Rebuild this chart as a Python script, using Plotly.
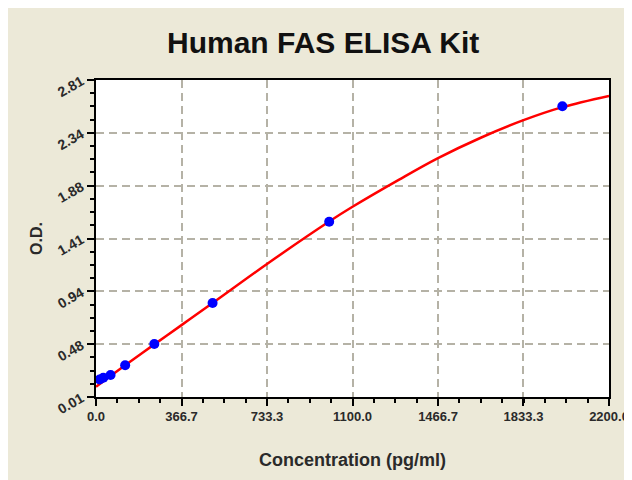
import plotly.graph_objects as go

# Standard points
std_conc = [15.6, 31.25, 62.5, 125, 250, 500, 1000, 2000]
std_od = [0.165, 0.18, 0.205, 0.29, 0.478, 0.84, 1.558, 2.578]

# Fitted curve
curve_conc = [0, 62.5, 125, 250, 366.7, 500, 733.3, 1000, 1100, 1300, 1466.7, 1650, 1833.3, 2000, 2200]
curve_od = [0.10, 0.195, 0.29, 0.475, 0.645, 0.84, 1.185, 1.56, 1.69, 1.93, 2.12, 2.30, 2.455, 2.57, 2.67]

x_ticks = [0.0, 366.7, 733.3, 1100.0, 1466.7, 1833.3, 2200.0]
x_labels = ["0.0", "366.7", "733.3", "1100.0", "1466.7", "1833.3", "2200.0"]
y_ticks = [0.01, 0.4767, 0.9433, 1.41, 1.8767, 2.3433, 2.81]
y_labels = ["0.01", "0.48", "0.94", "1.41", "1.88", "2.34", "2.81"]

BG = "#ECE9D8"
GRID = "#B5B2A6"
FONT = "Liberation Sans, Arial, sans-serif"
TXT = "#2a2a2a"

fig = go.Figure()
fig.add_trace(go.Scatter(x=curve_conc, y=curve_od, mode="lines",
                         line=dict(color="#FF0000", width=2.5, shape="spline", smoothing=1.0),
                         hoverinfo="skip", showlegend=False))
fig.add_trace(go.Scatter(x=std_conc, y=std_od, mode="markers",
                         marker=dict(color="#0000FF", size=10, line=dict(width=0)),
                         showlegend=False))

axis_common = dict(
    showline=True, linecolor="black", linewidth=1.5, mirror=True,
    ticks="outside", ticklen=7, tickwidth=1.5, tickcolor="black",
    showgrid=True, gridcolor=GRID, gridwidth=1.5, griddash="8px,5px",
    zeroline=False, automargin=False,
)

fig.update_xaxes(
    range=[0, 2200], tickmode="array", tickvals=x_ticks, ticktext=x_labels,
    tickfont=dict(family=FONT, size=13, color=TXT, weight="bold"),
    minor=dict(ticks="outside", ticklen=4, tickwidth=1.5, tickcolor="black",
               tick0=0, dtick=2200 / 24, showgrid=False),
    title=dict(text="<b>Concentration (pg/ml)</b>", font=dict(family=FONT, size=18, color=TXT), standoff=30),
    **axis_common,
)
fig.update_yaxes(
    range=[0.01, 2.81], tickmode="array", tickvals=y_ticks, ticktext=y_labels,
    tickangle=-30, ticklabelstandoff=3,
    tickfont=dict(family=FONT, size=14, color=TXT, weight="bold"),
    minor=dict(ticks="outside", ticklen=4, tickwidth=1.5, tickcolor="black",
               tick0=0.01, dtick=2.8 / 24, showgrid=False),
    title=dict(text="<b>O.D.</b>", font=dict(family=FONT, size=16, color=TXT), standoff=8),
    **axis_common,
)

fig.update_layout(
    width=624, height=472,
    margin=dict(l=88, r=23, t=72, b=83),
    paper_bgcolor=BG, plot_bgcolor="white",
    title=dict(text="<b>Human FAS ELISA Kit</b>", x=0.505, xanchor="center",
               y=1 - 34 / 472, yanchor="middle",
               font=dict(family=FONT, size=30, color="#111111")),
    font=dict(family=FONT),
)

fig.write_html("out.html")
